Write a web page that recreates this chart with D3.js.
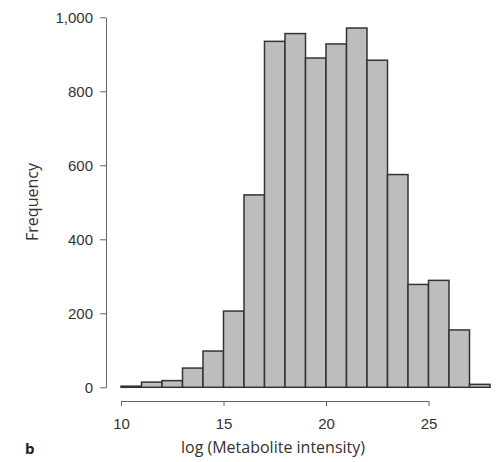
<!DOCTYPE html>
<html>
<head>
<meta charset="utf-8">
<script src="https://cdn.jsdelivr.net/npm/d3@7"></script>
<style>
  body { margin: 0; background: #fff; }
  svg { display: block; font-family: "Open Sans", "Noto Sans", sans-serif; }
  .axis text { fill: #333; font-size: 15px; }
  .axis path, .axis line { stroke: #666; }
</style>
</head>
<body>
<div id="chart"></div>
<script>
////////////////////
// DATA
var binEdges = [10, 11, 12, 13, 14, 15, 16, 17, 18, 19, 20, 21, 22, 23, 24, 25, 26, 27, 28];
var counts = [3, 14, 18, 52, 98, 206, 520, 935, 956, 890, 928, 971, 884, 575, 278, 289, 155, 8];
var xTicks = [10, 15, 20, 25];
var yTicks = [0, 200, 400, 600, 800, 1000];

////////////////////
// SETUP
var w = 498;
var h = 462;

var svg = d3.select("#chart")
  .append("svg")
  .attr("width", w)
  .attr("height", h);

var x = d3.scaleLinear()
  .domain([10, 28])
  .range([121, 490]);

var y = d3.scaleLinear()
  .domain([0, 1000])
  .range([387.3, 17.3]);

var bins = counts.map(function(c, i) {
  return { x0: binEdges[i], x1: binEdges[i + 1], count: c };
});

////////////////////
// BARS
svg.append("g")
  .selectAll("rect")
  .data(bins)
  .enter()
  .append("rect")
  .attr("x", function(d) { return x(d.x0); })
  .attr("y", function(d) { return y(d.count); })
  .attr("width", function(d) { return x(d.x1) - x(d.x0); })
  .attr("height", function(d) { return y(0) - y(d.count); })
  .attr("fill", "#bdbdbd")
  .attr("stroke", "#333")
  .attr("stroke-width", 1.5);

////////////////////
// AXES
svg.append("g")
  .attr("class", "axis")
  .attr("transform", "translate(106,0)")
  .call(d3.axisLeft(y)
    .tickValues(yTicks)
    .tickSize(6)
    .tickSizeOuter(0)
    .tickPadding(7)
    .tickFormat(d3.format(",")));

// x axis line only spans the labelled ticks
var xAxisScale = d3.scaleLinear()
  .domain([10, 25])
  .range([x(10), x(25)]);

svg.append("g")
  .attr("class", "axis")
  .attr("transform", "translate(0,401)")
  .call(d3.axisBottom(xAxisScale)
    .tickValues(xTicks)
    .tickSize(5)
    .tickSizeOuter(0)
    .tickPadding(12));

////////////////////
// LABELS
svg.append("text")
  .attr("x", 273)
  .attr("y", 453)
  .attr("text-anchor", "middle")
  .attr("fill", "#333")
  .style("font-size", "16px")
  .text("log (Metabolite intensity)");

svg.append("text")
  .attr("transform", "translate(38,202) rotate(-90)")
  .attr("text-anchor", "middle")
  .attr("fill", "#333")
  .style("font-size", "16px")
  .text("Frequency");

svg.append("text")
  .attr("x", 25)
  .attr("y", 454)
  .attr("fill", "#222")
  .style("font-size", "15px")
  .style("font-weight", "bold")
  .text("b");
</script>
</body>
</html>
